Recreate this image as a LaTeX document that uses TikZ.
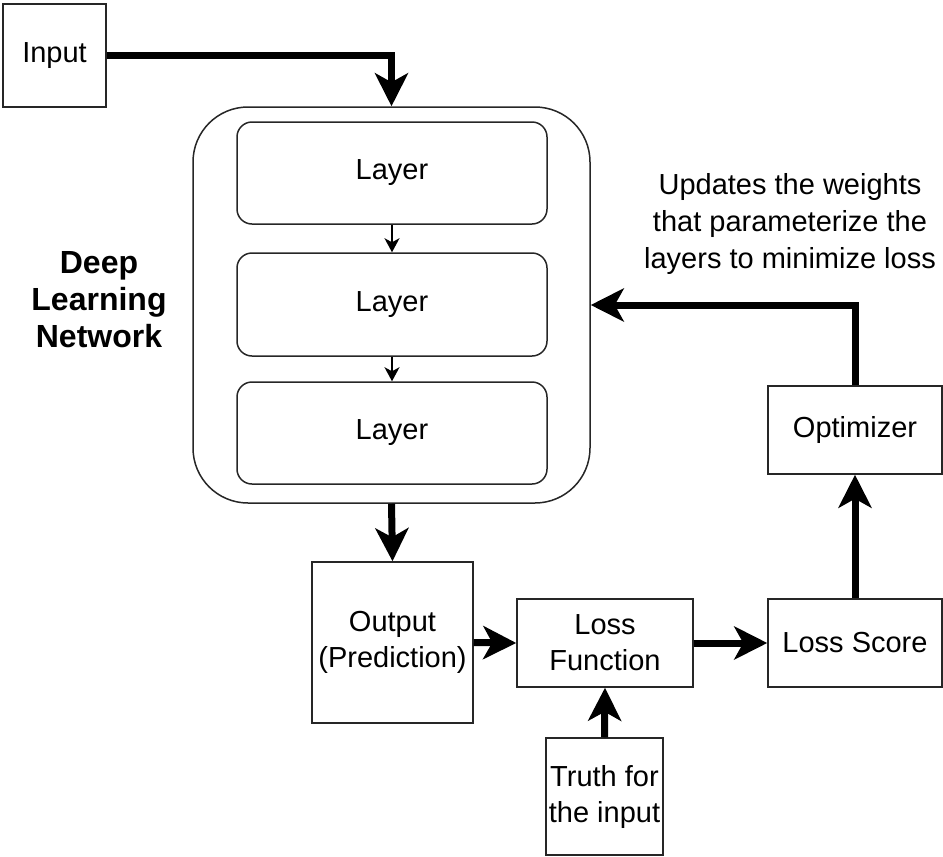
\documentclass[tikz,border=0pt]{standalone}
\usepackage{fontspec}
\setmainfont{Liberation Sans}
\usetikzlibrary{arrows.meta}
\begin{document}
\begin{tikzpicture}[x=1pt,y=1pt,
  font=\fontsize{29}{36}\selectfont,
  box/.style={draw=black!85, line width=1.5pt, inner sep=0pt, align=center},
  layerbox/.style={box, rounded corners=15pt, minimum width=310pt},
  bigarrow/.style={line width=7pt, -{Stealth[length=33pt,width=33pt,inset=9pt]}},
  smallarrow/.style={line width=1.5pt, -{Stealth[length=14pt,width=15pt,inset=4pt]}}
]
\useasboundingbox (0,0) rectangle (943,-857);

% network container and its layers
\node[box, rounded corners=55pt, minimum width=397pt, minimum height=396pt] (net) at (391.5,-305) {};
\node[layerbox, minimum height=102pt] (l1) at (392,-173) {Layer};
\node[layerbox, minimum height=103pt] (l2) at (392,-304.5) {Layer};
\node[layerbox, minimum height=102pt] (l3) at (392,-433) {Layer};
\node[align=center, font=\fontsize{32}{37}\selectfont\bfseries] (dln) at (99,-300) {Deep\\Learning\\Network};

% plain boxes
\node[box, minimum width=103pt, minimum height=103pt] (inp) at (54.5,-55.5) {Input};
\node[box, minimum width=161pt, minimum height=161pt] (out) at (392.5,-642.5) {Output\\(Prediction)};
\node[box, minimum width=176pt, minimum height=88pt] (loss) at (605,-643) {Loss\\Function};
\node[box, minimum width=117pt, minimum height=117pt] (truth) at (604.5,-796.5) {Truth for\\the input};
\node[box, minimum width=174pt, minimum height=88pt] (score) at (855,-643) {Loss Score};
\node[box, minimum width=174pt, minimum height=88pt] (opt) at (855,-430) {Optimizer};

\node[align=center, font=\fontsize{29}{37}\selectfont] (upd) at (790,-224)
  {Updates the weights\\that parameterize the\\layers to minimize loss};

% connectors
\draw[smallarrow] (l1) -- (l2);
\draw[smallarrow] (l2) -- (l3);
\draw[bigarrow] (inp.east) -| (net.north);
\draw[bigarrow] (net.south) -- (out.north);
\draw[bigarrow] (out.east) -- (loss.west);
\draw[bigarrow] (loss.east) -- (score.west);
\draw[bigarrow] (truth.north) -- (loss.south);
\draw[bigarrow] (score.north) -- (opt.south);
\draw[bigarrow] (opt.north) |- (net.east);
\end{tikzpicture}
\end{document}
